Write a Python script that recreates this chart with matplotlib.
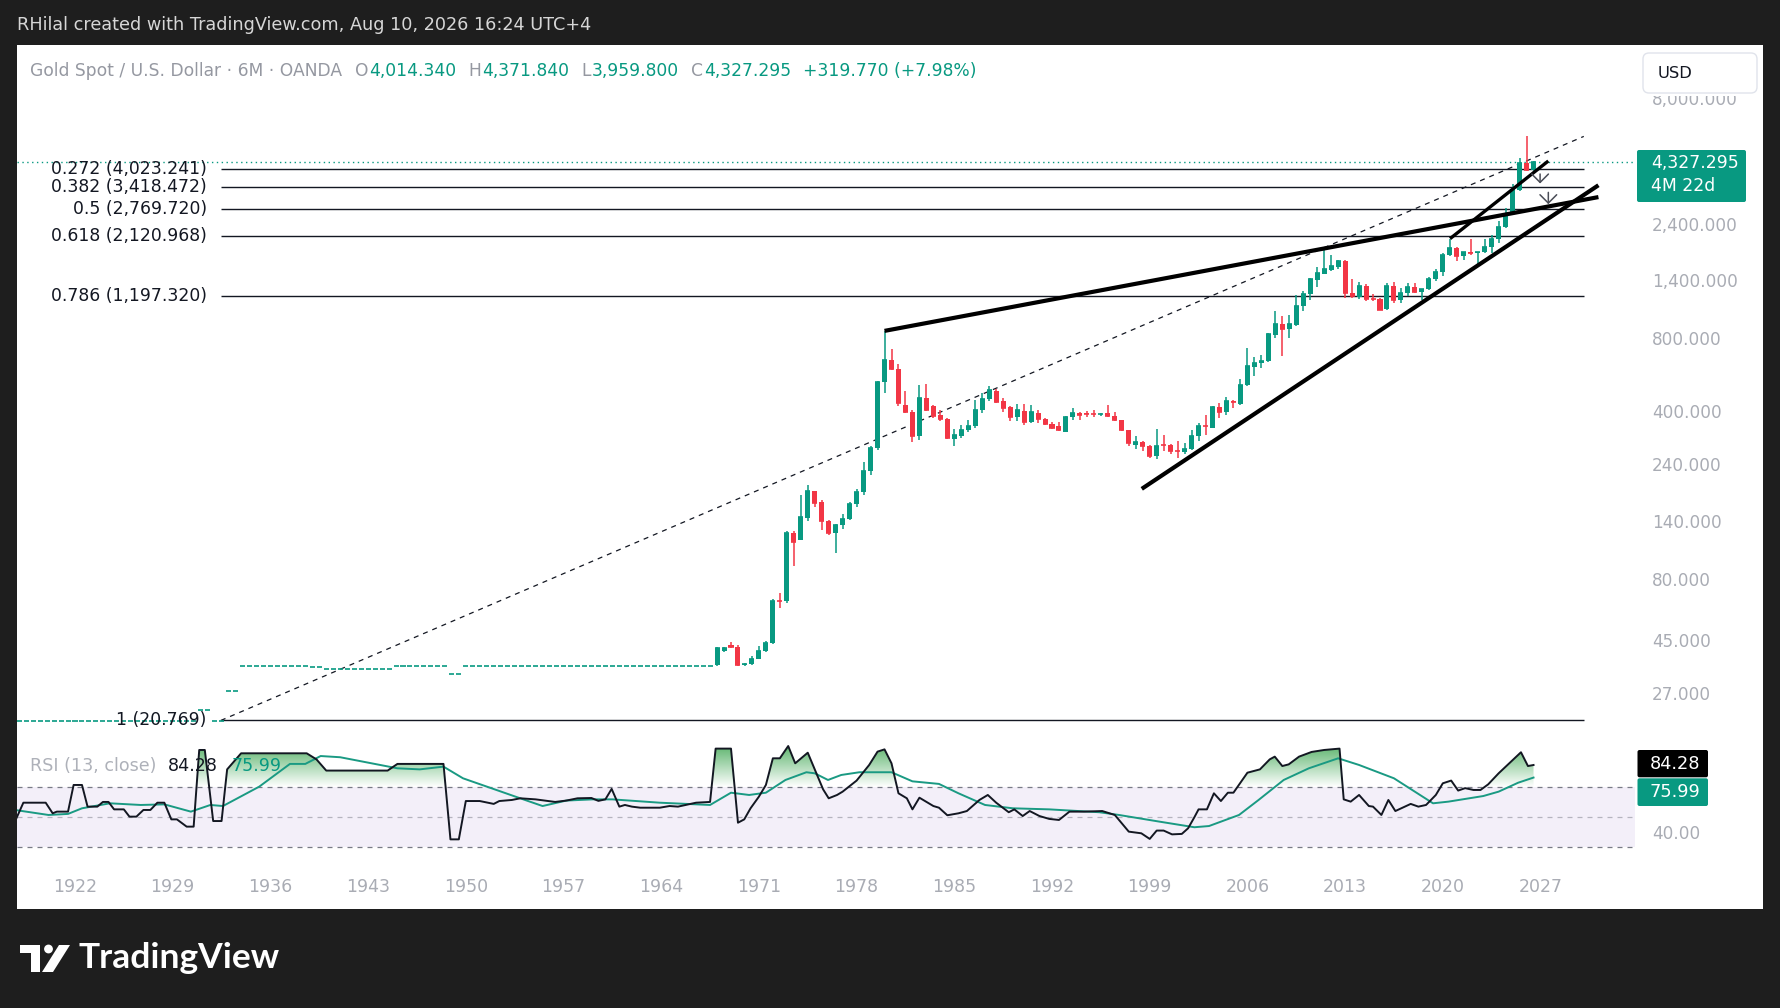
import numpy as np
import matplotlib
matplotlib.use('Agg')
import matplotlib.pyplot as plt
from matplotlib.patches import Rectangle, FancyBboxPatch, Circle, Polygon
from matplotlib.path import Path
from matplotlib.ticker import FuncFormatter, NullLocator

plt.rcParams['font.family'] = ['DejaVu Sans']

UP = '#089981'
DN = '#f23645'
INK = '#131722'
AXT = '#a9acb4'

# ---------------- data ----------------
# flat (fixed-price era) semi-annual closes, 1918.0 .. 1967.5
early_years = np.arange(1918.0, 1968.0, 0.5)
early_close = [20.67, 20.67, 20.67, 20.67, 20.67, 20.67, 20.67, 20.67, 20.67, 20.67,
               20.67, 20.67, 20.67, 20.67, 20.67, 20.67, 20.67, 20.67, 20.67, 20.67,
               20.67, 20.67, 20.67, 20.67, 20.67, 20.67, 22.9, 22.9, 20.67, 20.67,
               27.5, 27.5, 35.0, 35.0, 35.0, 35.0, 35.0, 35.0, 35.0, 35.0,
               35.0, 35.0, 34.7, 34.7, 34.0, 34.0, 34.0, 34.0, 34.0, 34.0,
               34.0, 34.0, 34.0, 34.0, 35.0, 35.0, 35.0, 35.0, 35.0, 35.0,
               35.0, 35.0, 32.5, 32.5, 35.0, 35.0, 35.0, 35.0, 35.0, 35.0,
               35.0, 35.0, 35.0, 35.0, 35.0, 35.0, 35.0, 35.0, 35.0, 35.0,
               35.0, 35.0, 35.0, 35.0, 35.0, 35.0, 35.0, 35.0, 35.0, 35.0,
               35.0, 35.0, 35.0, 35.0, 35.0, 35.0, 35.0, 35.0, 35.0, 35.0]

# semi-annual candles 1968.0 .. 2026.5
years = np.arange(1968.0, 2027.0, 0.5)
opens = [35.4, 40.2, 42.9, 42.1, 35.2, 35.6, 37.4, 40.5, 43.6, 65.0,
         64.9, 124.0, 117.0, 144.0, 186.0, 167.0, 140.0, 124.0, 135.0, 143.0,
         165.0, 184.0, 226.0, 280.0, 530.0, 650.0, 598.0, 424.0, 397.0, 314.0,
         452.0, 420.0, 386.0, 372.0, 306.0, 314.0, 332.0, 347.0, 402.0, 448.0,
         482.0, 438.0, 415.0, 377.0, 400.0, 360.0, 391.0, 370.0, 353.0, 345.0,
         327.0, 377.0, 394.0, 391.0, 389.0, 387.0, 394.0, 382.0, 368.0, 334.0,
         289.0, 296.0, 287.0, 261.0, 290.0, 290.0, 274.0, 270.0, 279.0, 314.0,
         348.0, 340.0, 415.0, 395.0, 440.0, 429.0, 514.0, 608.0, 632.0, 642.0,
         829.0, 918.0, 876.0, 912.0, 1087.0, 1229.0, 1402.0, 1480.0, 1544.0, 1585.0,
         1673.0, 1231.0, 1192.0, 1320.0, 1170.0, 1172.0, 1061.0, 1320.0, 1152.0, 1241.0,
         1303.0, 1252.0, 1282.0, 1409.0, 1517.0, 1781.0, 1898.0, 1763.0, 1829.0, 1807.0,
         1824.0, 1919.0, 2063.0, 2326.0, 2624.0, 3303.0, 4300.0, 4014.34]
highs = [42.0, 41.9, 44.0, 42.6, 35.9, 38.3, 42.4, 44.5, 66.0, 70.0,
         127.0, 127.0, 180.0, 197.0, 187.0, 170.0, 141.0, 136.0, 150.0, 168.0,
         190.0, 245.0, 285.0, 535.0, 860.0, 725.0, 624.0, 482.0, 404.0, 514.0,
         519.0, 424.0, 404.0, 373.0, 337.0, 351.0, 368.0, 445.0, 475.0, 506.0,
         493.0, 452.0, 418.0, 428.0, 428.0, 424.0, 404.0, 374.0, 361.0, 360.0,
         380.0, 410.0, 397.0, 400.0, 402.0, 394.0, 422.0, 397.0, 368.0, 335.0,
         316.0, 300.0, 290.0, 336.0, 319.0, 292.0, 299.0, 294.0, 332.0, 356.0,
         384.0, 418.0, 430.0, 456.0, 445.0, 543.0, 729.0, 669.0, 684.0, 842.0,
         1036.0, 989.0, 1004.0, 1211.0, 1265.0, 1431.0, 1577.0, 1898.0, 1773.0, 1700.0,
         1700.0, 1416.0, 1371.0, 1345.0, 1224.0, 1180.0, 1362.0, 1375.0, 1296.0, 1357.0,
         1365.0, 1285.0, 1438.0, 1557.0, 1815.0, 2075.0, 1916.0, 1834.0, 2070.0, 1830.0,
         2063.0, 2150.0, 2450.0, 2790.0, 3500.0, 4500.0, 5536.0, 4371.84]
lows = [35.0, 39.8, 41.6, 35.0, 34.9, 35.3, 37.2, 40.0, 43.0, 61.0,
        63.9, 91.0, 116.0, 140.0, 160.0, 128.0, 122.0, 103.0, 130.0, 141.0,
        160.0, 180.0, 216.0, 275.0, 474.0, 590.0, 420.0, 391.0, 297.0, 304.0,
        400.0, 374.0, 362.0, 306.0, 286.0, 310.0, 326.0, 340.0, 391.0, 440.0,
        431.0, 395.0, 362.0, 362.0, 351.0, 355.0, 357.0, 351.0, 337.0, 329.0,
        326.0, 368.0, 368.0, 379.0, 377.0, 382.0, 377.0, 364.0, 331.0, 285.0,
        279.0, 272.0, 255.0, 253.0, 274.0, 264.0, 255.0, 265.0, 276.0, 299.0,
        319.0, 340.0, 374.0, 386.0, 411.0, 425.0, 510.0, 560.0, 602.0, 640.0,
        800.0, 677.0, 803.0, 900.0, 1045.0, 1157.0, 1310.0, 1478.0, 1527.0, 1560.0,
        1180.0, 1180.0, 1162.0, 1140.0, 1140.0, 1046.0, 1046.0, 1123.0, 1123.0, 1204.0,
        1240.0, 1160.0, 1266.0, 1380.0, 1451.0, 1764.0, 1677.0, 1690.0, 1780.0, 1615.0,
        1804.0, 1810.0, 1985.0, 2290.0, 2600.0, 3270.0, 3950.0, 3959.8]
closes = [41.5, 41.5, 42.1, 35.3, 35.6, 37.4, 40.5, 43.6, 65.0, 64.9,
          124.0, 114.0, 145.0, 186.0, 166.0, 140.0, 124.0, 135.0, 143.0, 165.0,
          184.0, 226.0, 280.0, 530.0, 650.0, 598.0, 430.0, 397.0, 314.0, 452.0,
          404.0, 382.0, 372.0, 309.0, 319.0, 332.0, 347.0, 404.0, 448.0, 490.0,
          434.0, 411.0, 377.0, 402.0, 360.0, 395.0, 370.0, 353.0, 341.0, 332.0,
          377.0, 391.0, 386.0, 387.0, 388.0, 389.0, 380.0, 368.0, 332.0, 294.0,
          296.0, 287.0, 261.0, 287.0, 289.0, 273.0, 272.0, 279.0, 314.0, 345.0,
          346.0, 415.0, 395.0, 438.0, 436.0, 514.0, 614.0, 632.0, 646.0, 834.0,
          918.0, 876.0, 921.0, 1093.0, 1229.0, 1411.0, 1494.0, 1555.0, 1595.0, 1673.0,
          1231.0, 1196.0, 1320.0, 1162.0, 1165.0, 1049.0, 1320.0, 1152.0, 1241.0, 1303.0,
          1252.0, 1282.0, 1409.0, 1517.0, 1769.0, 1898.0, 1763.0, 1829.0, 1807.0, 1824.0,
          1919.0, 2063.0, 2326.0, 2624.0, 3303.0, 4300.0, 4014.34, 4327.295]

last_price = 4327.295
price_ticks = [27, 45, 80, 140, 240, 400, 800, 1400, 2400, 8000]
time_ticks = [1922, 1929, 1936, 1943, 1950, 1957, 1964, 1971, 1978, 1985,
              1992, 1999, 2006, 2013, 2020, 2027]

fib_levels = [0.272, 0.382, 0.5, 0.618, 0.786, 1]
fib_prices = [4023.241, 3418.472, 2769.720, 2120.968, 1197.320, 20.769]
fib_x = [1932.45, 2030.1]
fib_trend = [20.769, 5518.67]

res_x, res_y = [1980.0, 2031.15], [860, 3090]
sup_x, sup_y = [1998.43, 2031.15], [190, 3460]
chan_x, chan_y = [2020.52, 2027.56], [2077, 4363]
arrow1_x, arrow1_y = 2026.97, [3956, 3427]
arrow2_x, arrow2_y = 2027.56, [3319, 2812]

rsi_x = [1917.8, 1918.3, 1919.9, 1920.4, 1920.7, 1921.5, 1921.9, 1922.5, 1922.9, 1923.6,
         1924.0, 1924.4, 1924.8, 1925.5, 1925.9, 1926.4, 1926.9, 1927.4, 1927.9, 1928.4,
         1928.9, 1929.3, 1930.0, 1930.5, 1930.9, 1931.3, 1931.9, 1932.5, 1932.9, 1933.9,
         1938.6, 1939.3, 1940.0, 1944.4, 1945.1, 1948.4, 1948.9, 1949.5, 1950.0, 1951.0,
         1952.0, 1952.4, 1953.3, 1953.9, 1955.0, 1956.4, 1957.2, 1958.0, 1959.0, 1959.5,
         1960.0, 1960.45, 1961.0, 1961.4, 1961.9, 1962.5, 1963.9, 1964.6, 1965.2, 1966.5,
         1967.5, 1967.9, 1969.0, 1969.5, 1969.95, 1970.4, 1971.0, 1971.5, 1972.0, 1972.5,
         1973.1, 1973.6, 1974.5, 1975.0, 1975.6, 1976.0, 1976.6, 1977.0, 1978.0, 1978.9,
         1979.5, 1980.0, 1980.5, 1981.0, 1981.6, 1982.0, 1982.5, 1983.5, 1983.9, 1984.5,
         1985.3, 1985.9, 1986.8, 1987.4, 1988.0, 1988.9, 1989.3, 1989.9, 1990.4, 1991.1,
         1991.8, 1992.5, 1993.25, 1994.3, 1995.6, 1996.5, 1997.5, 1998.4, 1999.0, 1999.5,
         2000.0, 2000.6, 2001.3, 2001.75, 2002.2, 2002.5, 2003.1, 2003.6, 2004.1, 2004.6,
         2005.0, 2006.0, 2006.9, 2007.6, 2007.96, 2008.5, 2008.96, 2009.7, 2010.6, 2011.5,
         2012.6, 2012.9, 2013.4, 2014.0, 2014.7, 2015.0, 2015.6, 2016.1, 2016.6, 2017.7,
         2018.25, 2018.8, 2019.5, 2020.0, 2020.6, 2021.1, 2021.6, 2022.2, 2022.7, 2023.25,
         2024.0, 2025.6, 2026.1, 2026.5]
rsi_v = [49.1, 59.4, 59.4, 52.4, 53.5, 53.5, 71.1, 71.1, 56.8, 56.8,
         59.9, 59.9, 55.0, 55.0, 50.2, 50.2, 54.6, 54.6, 59.4, 59.4,
         48.4, 48.4, 43.6, 43.6, 94.2, 94.2, 47.3, 47.3, 81.4, 92.0,
         92.0, 88.0, 80.6, 80.6, 85.0, 85.0, 35.2, 35.2, 60.5, 60.5,
         58.6, 60.5, 61.2, 62.3, 61.6, 59.9, 60.8, 62.3, 62.5, 60.6,
         61.6, 68.5, 56.8, 57.9, 56.8, 56.1, 56.1, 57.2, 56.8, 59.4,
         59.9, 95.1, 95.1, 46.2, 48.4, 55.7, 63.4, 71.1, 88.7, 88.7,
         96.8, 85.4, 92.4, 81.4, 68.2, 62.3, 64.5, 66.7, 74.0, 84.3,
         93.1, 94.6, 85.4, 65.6, 62.3, 55.0, 62.7, 57.2, 56.1, 51.1,
         52.4, 53.9, 61.2, 64.5, 59.4, 53.1, 55.0, 50.6, 53.9, 50.6,
         48.7, 48.0, 53.5, 53.5, 53.9, 51.3, 40.3, 39.2, 35.5, 41.0,
         41.0, 38.5, 38.8, 42.5, 49.8, 55.0, 55.0, 65.6, 60.5, 66.0,
         66.0, 79.2, 81.4, 88.0, 89.8, 83.6, 84.7, 89.8, 92.9, 94.2,
         95.1, 61.6, 60.1, 64.5, 57.2, 56.8, 51.3, 61.2, 53.9, 58.6,
         56.8, 57.9, 64.5, 72.2, 74.0, 67.4, 69.0, 67.8, 67.8, 71.5,
         78.8, 92.7, 83.6, 84.28]
ma_x = [1917.7, 1918.5, 1920.1, 1921.5, 1922.5, 1924.5, 1926.7, 1928.4, 1930.3, 1931.7,
        1932.6, 1935.2, 1937.4, 1938.5, 1939.6, 1941.0, 1945.1, 1946.7, 1948.4, 1949.8,
        1953.9, 1955.5, 1957.2, 1959.1, 1960.5, 1963.9, 1967.5, 1969.0, 1970.3, 1971.5,
        1972.9, 1974.4, 1975.0, 1975.95, 1976.9, 1978.2, 1980.5, 1982.0, 1983.9, 1985.3,
        1987.2, 1989.2, 1991.8, 1995.4, 1996.8, 1999.7, 2002.2, 2003.25, 2005.4, 2006.8,
        2008.6, 2010.4, 2012.5, 2014.0, 2016.5, 2019.3, 2020.4, 2022.9, 2024.0, 2025.4,
        2026.5]
ma_v = [54.6, 53.5, 51.3, 52.0, 55.7, 59.0, 57.9, 58.3, 53.5, 57.9,
        57.2, 70.0, 85.0, 85.0, 90.2, 89.4, 82.1, 81.4, 83.2, 75.5,
        62.3, 57.2, 60.8, 61.6, 61.6, 59.4, 57.9, 66.0, 64.5, 66.0,
        74.4, 79.5, 78.8, 74.4, 77.7, 79.5, 79.5, 73.5, 71.8, 65.6,
        57.9, 55.7, 55.0, 53.1, 51.3, 46.9, 43.2, 44.0, 51.3, 61.2,
        74.4, 82.1, 88.7, 84.3, 75.5, 59.0, 60.1, 63.8, 66.7, 72.6,
        75.99]
rsi_last, ma_last = 84.28, 75.99

# ---------------- figure ----------------
W, H = 1781, 1008
fig = plt.figure(figsize=(W / 100, H / 100), dpi=100)
fig.patch.set_facecolor('#1e1e1e')

bg = fig.add_axes([0, 0, 1, 1], zorder=0)
bg.set_xlim(0, W); bg.set_ylim(H, 0); bg.axis('off')
bg.add_patch(Rectangle((17, 45), 1746, 864, facecolor='white', edgecolor='none'))

XL = (1917.844, 2033.77)
ax = fig.add_axes([17 / W, 1 - 735 / H, 1618 / W, 690 / H], zorder=1)
axr = fig.add_axes([17 / W, 1 - 868 / H, 1618 / W, 130 / H], zorder=1)
for a in (ax, axr):
    a.set_facecolor('none')
    for s in a.spines.values():
        s.set_visible(False)
    a.set_xlim(*XL)

# ----- price pane -----
ax.set_yscale('log')
ax.set_ylim(18.07, 13221)
ax.yaxis.tick_right()
ax.set_yticks(price_ticks)
ax.yaxis.set_minor_locator(NullLocator())
ax.yaxis.set_major_formatter(FuncFormatter(lambda v, p: f'{v:,.3f}'))
ax.tick_params(axis='y', length=0, pad=12.2, labelsize=12.2, labelcolor=AXT)
ax.set_xticks([])

# flat-era candles
ax.hlines(early_close, early_years - 0.18, early_years + 0.18, color=UP, lw=1.2, zorder=3)

O = np.array(opens); Hh = np.array(highs); Lw = np.array(lows); C = np.array(closes)
cols = np.where(C >= O, UP, DN)
ax.vlines(years, Lw, Hh, color=cols, lw=1.1, zorder=3)
ax.bar(years, np.abs(C - O), bottom=np.minimum(O, C), width=0.36, color=cols,
       linewidth=0, zorder=4)
ax.hlines(C, years - 0.18, years + 0.18, color=cols, lw=1.2, zorder=4)

# last price line
ax.axhline(last_price, color=UP, lw=1, ls=(0, (1, 2.5)), zorder=2)

# fib retracement
ax.hlines(fib_prices, fib_x[0], fib_x[1], color=INK, lw=1, zorder=2)
ax.plot(fib_x, fib_trend, color=INK, lw=0.9, ls=(0, (4, 4)), zorder=2)
for lvl, pr in zip(fib_levels, fib_prices):
    ax.annotate(f'{lvl:g} ({pr:,.3f})', xy=(fib_x[0], pr), xytext=(-14, 0),
                textcoords='offset pixels', ha='right', va='center',
                fontsize=12.4, color=INK, zorder=5)

# trend lines
ax.plot(res_x, res_y, color='black', lw=3.0, solid_capstyle='butt', zorder=6)
ax.plot(sup_x, sup_y, color='black', lw=3.0, solid_capstyle='butt', zorder=6)
ax.plot(chan_x, chan_y, color='black', lw=2.4, solid_capstyle='butt', zorder=6)
for axx, ay in ((arrow1_x, arrow1_y), (arrow2_x, arrow2_y)):
    ax.annotate('', xy=(axx, ay[1]), xytext=(axx, ay[0]),
                arrowprops=dict(arrowstyle='->,head_length=0.6,head_width=0.6',
                                mutation_scale=10, color='#4a4d57', lw=1.1), zorder=7)

# ----- RSI pane -----
axr.set_ylim(16.3, 102.1)
axr.axhspan(30, 70, color='#7e57c2', alpha=0.09, lw=0, zorder=0)
for lv, al in ((70, 1.0), (50, 0.5), (30, 1.0)):
    axr.axhline(lv, color='#787b86', lw=0.9, ls=(0, (4, 4)), alpha=al, zorder=1)

rx = np.array(rsi_x); rv = np.array(rsi_v)
poly = axr.fill_between(rx, rv, 70, where=rv > 70, interpolate=True,
                        facecolor='none', edgecolor='none')
clip = Path.make_compound_path(*poly.get_paths())
g = np.linspace(0, 1, 256)
rgba = np.zeros((256, 1, 4))
rgba[..., 0] = 0.22; rgba[..., 1] = 0.64; rgba[..., 2] = 0.30
rgba[..., 3] = (g ** 1.0 * 0.9)[:, None]
im = axr.imshow(rgba, extent=[XL[0], XL[1], 70, 100], origin='lower',
                aspect='auto', zorder=2, interpolation='bilinear')
im.set_clip_path(clip, transform=axr.transData)
axr.set_xlim(*XL); axr.set_ylim(16.3, 102.1)

axr.plot(ma_x, ma_v, color='#1a9a83', lw=1.4, zorder=3)
axr.plot(rsi_x, rsi_v, color=INK, lw=1.4, zorder=4)

axr.yaxis.tick_right()
axr.set_yticks([40])
axr.yaxis.set_major_formatter(FuncFormatter(lambda v, p: f'{v:.2f}'))
axr.tick_params(axis='y', length=0, pad=12.2, labelsize=12.2, labelcolor=AXT)
axr.set_xticks(time_ticks)
axr.set_xticklabels([str(t) for t in time_ticks])
axr.tick_params(axis='x', length=0, pad=7.5, labelsize=12.5, labelcolor=AXT)

# ---------------- overlay (chrome) ----------------
ov = fig.add_axes([0, 0, 1, 1], zorder=3)
ov.set_xlim(0, W); ov.set_ylim(H, 0); ov.axis('off')
r = fig.canvas.get_renderer()

ov.text(17, 25, 'RHilal created with TradingView.com, Aug 10, 2026 16:24 UTC+4',
        color='#d6d6d6', fontsize=12.7, va='center', ha='left')

def seq(parts, x, y, size):
    for txt, col, gap in parts:
        t = ov.text(x, y, txt, color=col, fontsize=size, va='center', ha='left')
        x += t.get_window_extent(r).width + gap

GR = '#9598a1'
seq([('Gold Spot / U.S. Dollar · 6M · OANDA', GR, 13),
     ('O', GR, 1), ('4,014.340', UP, 12),
     ('H', GR, 1), ('4,371.840', UP, 12),
     ('L', GR, 1), ('3,959.800', UP, 12),
     ('C', GR, 1), ('4,327.295', UP, 12),
     ('+319.770 (+7.98%)', UP, 0)], 30, 71, 12.3)

# USD button (masks the top price label)
ov.add_patch(Rectangle((1637, 45), 126, 51, facecolor='white', edgecolor='none'))
ov.add_patch(FancyBboxPatch((1643, 53), 114, 40, boxstyle='round,pad=0,rounding_size=6',
                            facecolor='white', edgecolor='#e0e3eb', lw=1))
ov.text(1658, 73, 'USD', color=INK, fontsize=11.8, va='center', ha='left')

# last price tag
ov.add_patch(FancyBboxPatch((1637, 150), 109, 52, boxstyle='round,pad=0,rounding_size=2',
                            facecolor=UP, edgecolor='none'))
ov.text(1651, 163.5, f'{last_price:,.3f}', color='white', fontsize=12.4, va='center', ha='left')
ov.text(1651, 186, '4M 22d', color='white', fontsize=12.4, va='center', ha='left')

# RSI legend
seq([('RSI (13, close)', '#aeb1b9', 12), (f'{rsi_last:.2f}', INK, 13),
     (f'{ma_last:.2f}', UP, 0)], 30, 766, 12.6)

# RSI tags
ov.add_patch(FancyBboxPatch((1637.5, 750), 70.5, 27.3, boxstyle='round,pad=0,rounding_size=2',
                            facecolor='black', edgecolor='none'))
ov.text(1650, 764, f'{rsi_last:.2f}', color='white', fontsize=12.8, va='center', ha='left')
ov.add_patch(FancyBboxPatch((1637.5, 778.3), 70.5, 27.7, boxstyle='round,pad=0,rounding_size=2',
                            facecolor=UP, edgecolor='none'))
ov.text(1650, 792, f'{ma_last:.2f}', color='white', fontsize=12.8, va='center', ha='left')

# TradingView logo
ov.add_patch(Polygon([(20, 945), (40, 945), (40, 972), (31, 972), (31, 953), (20, 953)],
                     closed=True, facecolor='white', edgecolor='none'))
ov.add_patch(Circle((48.5, 949), 4.4, facecolor='white', edgecolor='none'))
ov.add_patch(Polygon([(42, 972), (53, 972), (70, 945), (59, 945)],
                     closed=True, facecolor='white', edgecolor='none'))
ov.text(79, 958, 'TradingView', color='white', fontsize=25.5, fontweight='bold',
        family=['Lato', 'DejaVu Sans'], va='center', ha='left')

fig.savefig('out.png', dpi=100, facecolor=fig.get_facecolor())
